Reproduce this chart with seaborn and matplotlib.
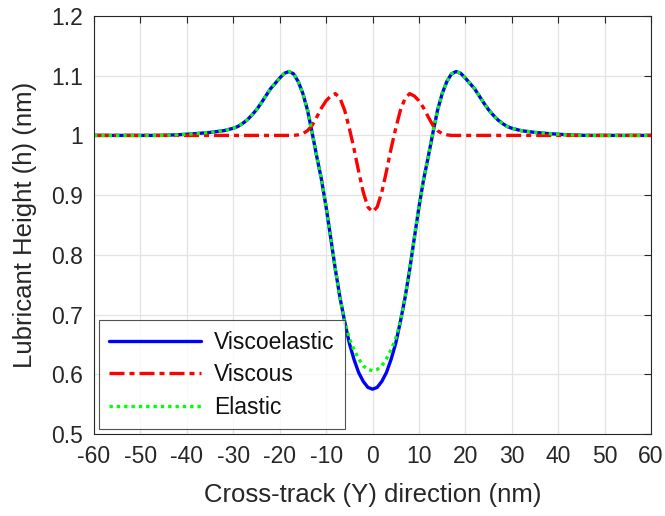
import numpy as np
import pandas as pd
import seaborn as sns
import matplotlib
matplotlib.use("Agg")
import matplotlib.pyplot as plt

# half-profile values (curves are symmetric about Y=0)
y_half = [0, 1, 2, 3, 4, 5, 6, 7, 8, 9, 10, 11, 12, 13, 14, 15, 16, 17, 18,
          19, 20, 21, 22, 23, 24, 25, 26, 27, 28, 29, 30, 32, 35, 38, 42, 46, 50, 55, 60]

h_viscoelastic = [0.575, 0.578, 0.588, 0.603, 0.625, 0.652, 0.688, 0.728, 0.775, 0.828,
                  0.880, 0.926, 0.964, 1.004, 1.042, 1.070, 1.090, 1.103, 1.107,
                  1.104, 1.096, 1.087, 1.078, 1.066, 1.054, 1.043, 1.034, 1.026, 1.020,
                  1.015, 1.012, 1.008, 1.005, 1.003, 1.001, 1.000, 1.000, 1.000, 1.000]

h_viscous = [0.872, 0.880, 0.905, 0.940, 0.978, 1.012, 1.042, 1.062, 1.070, 1.066,
             1.058, 1.046, 1.031, 1.017, 1.008, 1.003, 1.001, 1.000, 1.000,
             1.000, 1.000, 1.000, 1.000, 1.000, 1.000, 1.000, 1.000, 1.000, 1.000,
             1.000, 1.000, 1.000, 1.000, 1.000, 1.000, 1.000, 1.000, 1.000, 1.000]

h_elastic = [0.606, 0.608, 0.614, 0.626, 0.641, 0.660, 0.688, 0.728, 0.775, 0.828,
             0.880, 0.926, 0.964, 1.004, 1.042, 1.070, 1.090, 1.103, 1.107,
             1.104, 1.096, 1.087, 1.078, 1.066, 1.054, 1.043, 1.034, 1.026, 1.020,
             1.015, 1.012, 1.008, 1.005, 1.003, 1.001, 1.000, 1.000, 1.000, 1.000]

x_ticks = list(range(-60, 61, 10))
y_ticks = [0.5, 0.6, 0.7, 0.8, 0.9, 1.0, 1.1, 1.2]
y_tick_labels = ["0.5", "0.6", "0.7", "0.8", "0.9", "1", "1.1", "1.2"]


def mirror(xs, vals):
    # build the full profile from the right half
    x_full = [-x for x in xs[:0:-1]] + list(xs)
    v_full = list(vals[:0:-1]) + list(vals)
    return x_full, v_full


sns.set_style("white")
plt.rcParams['font.family'] = ['Liberation Sans', 'DejaVu Sans']

fig = plt.figure(figsize=(6.65, 5.16), dpi=100)
ax = fig.add_axes([0.1414, 0.159, 0.8376, 0.810])

series = [("Viscoelastic", h_viscoelastic, "#0000ff", "-"),
          ("Viscous", h_viscous, "#ff0000", (0, (4.5, 1.5, 1.5, 1.5))),
          ("Elastic", h_elastic, "#00ff00", (0, (1, 1.2)))]

for name, vals, col, ls in series:
    xs, vs = mirror(y_half, vals)
    df = pd.DataFrame({"Y": xs, "h": vs})
    sns.lineplot(data=df, x="Y", y="h", ax=ax, color=col, linestyle=ls,
                 linewidth=2.4, label=name, estimator=None, sort=False)

ax.set_xlim(-60, 60)
ax.set_ylim(0.5, 1.2)
ax.set_xticks(x_ticks)
ax.set_xticklabels([str(t) for t in x_ticks])
ax.set_yticks(y_ticks)
ax.set_yticklabels(y_tick_labels)
ax.grid(True, color="#e3e3e3", linewidth=0.9)
ax.set_axisbelow(True)
for s in ax.spines.values():
    s.set_color("#262626")
    s.set_linewidth(0.8)
ax.tick_params(direction="in", length=5, width=0.8, colors="#262626",
               labelsize=16.5, top=True, right=True, pad=8)
ax.set_xlabel("Cross-track (Y) direction (nm)", fontsize=18.5, color="#262626", labelpad=11)
ax.set_ylabel("Lubricant Height (h) (nm)", fontsize=18.5, color="#262626", labelpad=10)

leg = ax.legend(loc="lower left", fontsize=16.5, frameon=True, fancybox=False,
                handlelength=4.0, borderaxespad=0.2, labelspacing=0.42,
                handletextpad=0.6, borderpad=0.45)
leg.get_frame().set_edgecolor("#262626")
leg.get_frame().set_linewidth(0.8)
for t in leg.get_texts():
    t.set_color("#111111")

fig.savefig("out.png", dpi=100)
